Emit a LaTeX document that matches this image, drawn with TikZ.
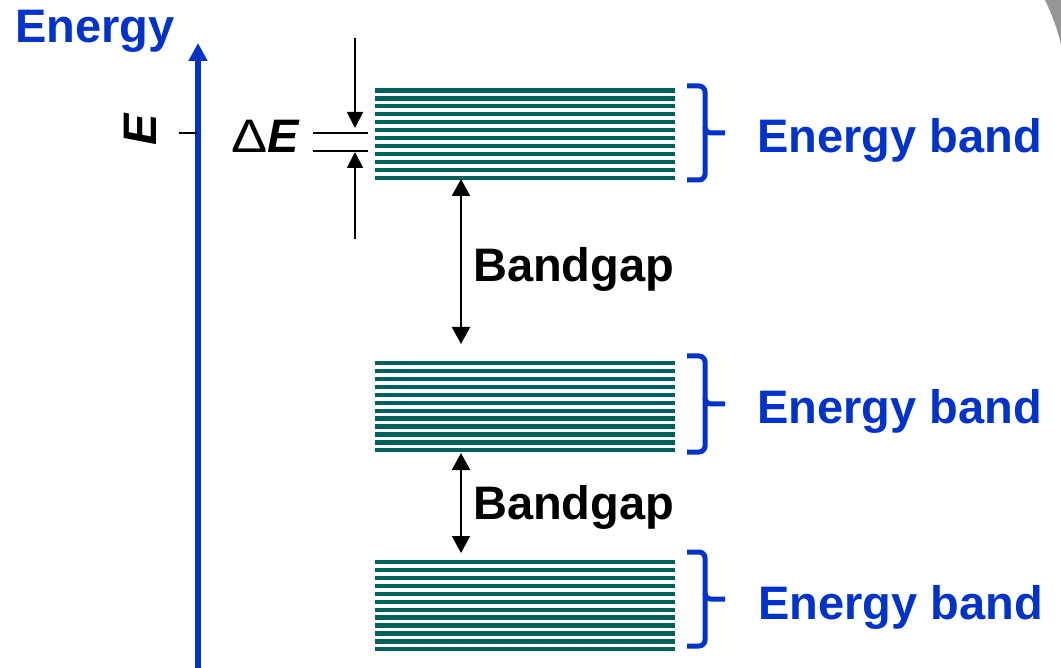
\documentclass[tikz,border=0pt]{standalone}
\usepackage{fontspec}
\setmainfont{Liberation Sans}
\usetikzlibrary{arrows.meta}
\definecolor{bandteal}{RGB}{0,96,92}
\definecolor{axisblue}{RGB}{0,51,204}
\definecolor{cornergray}{RGB}{150,150,150}
\begin{document}
\begin{tikzpicture}[x=1pt,y=-1pt,
  bandline/.style={draw=bandteal,line width=4.2pt},
  bluetext/.style={text=axisblue,font=\fontsize{47}{56}\selectfont\bfseries,inner sep=0pt},
  blacktext/.style={text=black,font=\fontsize{47}{56}\selectfont\bfseries,inner sep=0pt},
  bracestyle/.style={draw=axisblue,line width=5pt,rounded corners=6pt},
  gaparrow/.style={draw=black,line width=2.2pt,{Triangle[width=18pt,length=17pt]}-{Triangle[width=18pt,length=17pt]}},
  dearrow/.style={draw=black,line width=1.8pt,-{Triangle[width=16pt,length=16pt]}}]
\useasboundingbox (0,0) rectangle (1061,668);
\fill[white] (0,0) rectangle (1061,668);
% gray corner
\fill[cornergray] (1045,0) .. controls (1052,15) and (1058,30) .. (1061,45) -- (1061,0) -- cycle;
% axis
\coordinate (axbot) at (198,668);
\coordinate (axtop) at (198,43);
\draw[axisblue,line width=5.5pt,-{Triangle[width=18pt,length=18pt]}] (axbot) -- (axtop);
\node[bluetext,anchor=base west] (energy) at (15,43) {Energy};
% tick and E
\coordinate (tickL) at (179,133);
\coordinate (tickR) at (197,133);
\draw[black,line width=2.8pt] (tickL) -- (tickR);
\node[blacktext,rotate=90] (Erot) at (140,130) {\itshape E};
% delta E
\node[blacktext,anchor=base west] (dE) at (231,153) {{\mdseries\scalebox{1.15}[1]{Δ}}\textit{E}};
\coordinate (l1a) at (313,133); \coordinate (l1b) at (368,133);
\coordinate (l2a) at (313,151); \coordinate (l2b) at (368,151);
\draw[black,line width=1.8pt] (l1a) -- (l1b);
\draw[black,line width=1.8pt] (l2a) -- (l2b);
\coordinate (dAtop) at (355,38); \coordinate (dAtip) at (355,128);
\coordinate (dBbot) at (355,239); \coordinate (dBtip) at (355,152);
\draw[dearrow] (dAtop) -- (dAtip);
\draw[dearrow] (dBbot) -- (dBtip);
% bands
\foreach \t in {90.5,363,562}{
  \foreach \i in {0,...,11}{
    \draw[bandline] (375,\t+7.94*\i) -- (675,\t+7.94*\i);
  }
}
% braces
\foreach \top/\mid/\bot in {86/133/180, 356/404/452, 552/599/646}{
  \draw[bracestyle] (687,\top) -- (705,\top) -- (705,\mid) -- (725,\mid);
  \draw[bracestyle] (705,\mid-6) -- (705,\bot) -- (687,\bot);
}
\node[bluetext,anchor=base west] (eb1) at (757,153) {Energy band};
\node[bluetext,anchor=base west] (eb2) at (757,424) {Energy band};
\node[bluetext,anchor=base west] (eb3) at (758,619) {Energy band};
% bandgaps
\coordinate (g1t) at (461,179); \coordinate (g1b) at (461,344);
\coordinate (g2t) at (461,453); \coordinate (g2b) at (461,553);
\draw[gaparrow] (g1t) -- (g1b);
\draw[gaparrow] (g2t) -- (g2b);
\node[blacktext,anchor=base west] (bg1) at (473,282) {Bandgap};
\node[blacktext,anchor=base west] (bg2) at (473,519) {Bandgap};
\end{tikzpicture}
\end{document}
